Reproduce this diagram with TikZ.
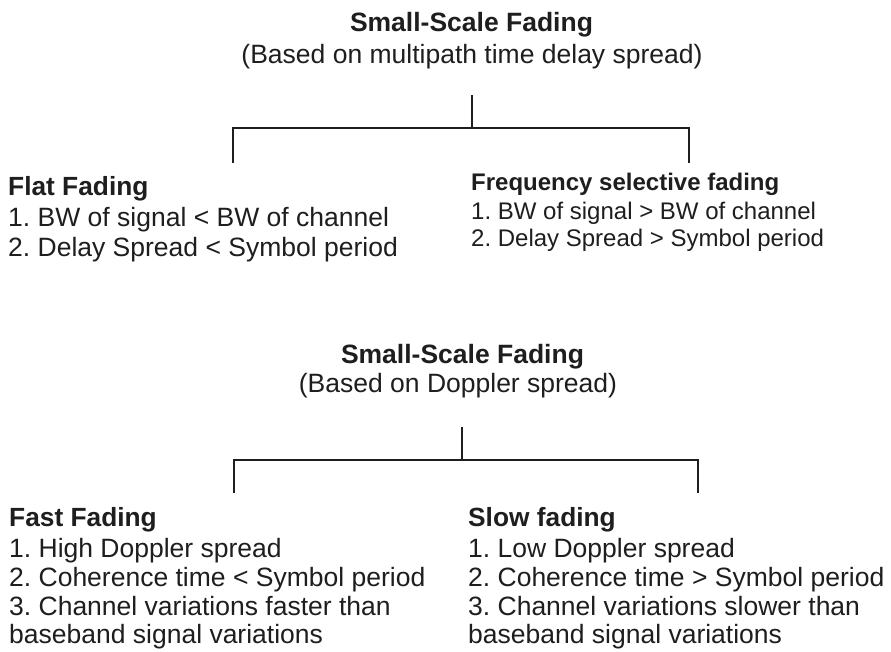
\documentclass[tikz,border=0pt]{standalone}
\usepackage{fontspec}
\setmainfont{Liberation Sans}
\frenchspacing
\definecolor{ink}{HTML}{1E1E1E}
\begin{document}
\begin{tikzpicture}[x=1pt,y=-1pt,
  txt/.style={inner sep=0pt,text=ink,font=\fontsize{26.5}{30}\selectfont},
  txtsm/.style={inner sep=0pt,text=ink,font=\fontsize{24}{28}\selectfont},
  ttl/.style={txt,anchor=base,font=\fontsize{26.5}{30}\selectfont\bfseries},
  sub/.style={txt,anchor=base},
  head/.style={anchor=base west,font=\fontsize{26.3}{30}\selectfont\bfseries},
  headsm/.style={anchor=base west,font=\fontsize{24}{28}\selectfont\bfseries},
  item/.style={txt,anchor=base west},
  itemsm/.style={txtsm,anchor=base west},
  tree/.style={draw=ink,line width=1.7pt}]
\useasboundingbox[fill=white] (0,0) rectangle (891,652);

% ---- classification by multipath time delay spread
\node[ttl] (t1) at (471.5,31.5) {Small-Scale Fading};
\node[sub] (t1s) at (472,64) {(Based on multipath time delay spread)};
\coordinate (s1top) at (472,95);
\coordinate (s1mid) at (472,128);
\coordinate (l1end) at (233,163);
\coordinate (r1end) at (689,163);
\draw[tree] (s1top) -- (s1mid);
\draw[tree] (l1end) -- (l1end |- s1mid) -- (r1end |- s1mid) -- (r1end);

\node[txt,head] (flat) at (8,195.5) {Flat Fading};
\node[item] (flat1) at (8,226.5) {1. BW of signal < BW of channel};
\node[item] (flat2) at (8,256.5) {2. Delay Spread < Symbol period};

\node[txtsm,headsm] (freq) at (471,191) {Frequency selective fading};
\node[itemsm] (freq1) at (471,220) {1. BW of signal > BW of channel};
\node[itemsm] (freq2) at (471,246.5) {2. Delay Spread > Symbol period};

% ---- classification by Doppler spread
\node[ttl] (t2) at (462.5,363) {Small-Scale Fading};
\node[sub] (t2s) at (458,392) {(Based on Doppler spread)};
\coordinate (s2top) at (462,427);
\coordinate (s2mid) at (462,460);
\coordinate (l2end) at (234,493);
\coordinate (r2end) at (698,493);
\draw[tree] (s2top) -- (s2mid);
\draw[tree] (l2end) -- (l2end |- s2mid) -- (r2end |- s2mid) -- (r2end);

\node[txt,head] (fast) at (9,526) {Fast Fading};
\node[item] (fast1) at (9,557.5) {1. High Doppler spread};
\node[item] (fast2) at (9,586.5) {2. Coherence time < Symbol period};
\node[item] (fast3) at (9,615) {3. Channel variations faster than};
\node[item] (fast4) at (9,643.5) {baseband signal variations};

\node[txt,head] (slow) at (468,526) {Slow fading};
\node[item] (slow1) at (468,557.5) {1. Low Doppler spread};
\node[item] (slow2) at (468,586.5) {2. Coherence time > Symbol period};
\node[item] (slow3) at (468,615) {3. Channel variations slower than};
\node[item] (slow4) at (468,643.5) {baseband signal variations};
\end{tikzpicture}
\end{document}
